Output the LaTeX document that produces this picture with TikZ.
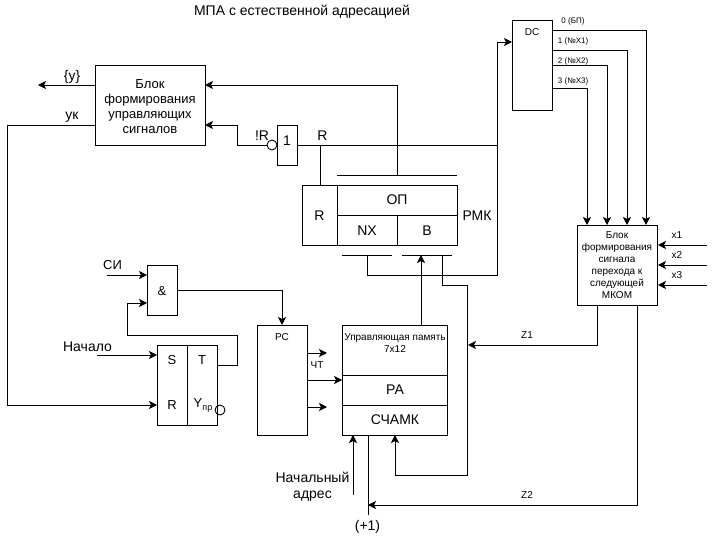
\documentclass[tikz,border=0pt]{standalone}
\usepackage{fontspec}
\setmainfont{Liberation Sans}
\usetikzlibrary{arrows.meta}
\usetikzlibrary{calc,positioning}

\begin{document}
\begin{tikzpicture}[x=1pt, y=-1pt, line width=0.9pt, >={Stealth[length=8pt,width=8pt,inset=2pt]},
        txt/.style={inner sep=0pt, align=center, font=\fontsize{14}{16}\selectfont},
        mid/.style={inner sep=0pt, align=center, font=\fontsize{13}{15}\selectfont},
        small/.style={inner sep=0pt, align=center, font=\fontsize{10}{12}\selectfont},
        tiny/.style={inner sep=0pt, anchor=west, font=\fontsize{8}{10}\selectfont},
        box/.style={draw=black, rectangle, anchor=north west, inner sep=0pt, outer sep=0pt, align=center},
        bubble/.style={draw=black, circle, minimum size=10pt, inner sep=0pt, outer sep=0pt}]
    \useasboundingbox (0,0) rectangle (716,537);

    \node [txt] (title) at (302,12) {МПА с естественной адресацией};

    % control signal block
    \node [box, minimum width=110pt, minimum height=80pt] (ctrl) at (95,65) {};
    \node [mid] (ctrltxt) at (150,107) {Блок\\формирования\\управляющих\\сигналов};
    \node [box, minimum width=20pt, minimum height=40pt] (gate) at (277,125) {};
    \node [mid, font=\fontsize{14}{16}\selectfont] (gatetxt) at (287,141) {1};
    \node [bubble] (notR) at (272,145) {};

    % register
    \node [box, minimum width=35pt, minimum height=60pt] (rmkR) at (302,185) {};
    \node [box, minimum width=120pt, minimum height=30pt] (rmkOP) at (337,185) {};
    \node [box, minimum width=60pt, minimum height=30pt] (rmkNX) at (337,215) {};
    \node [box, minimum width=60pt, minimum height=30pt] (rmkB) at (397,215) {};
    \node [txt] (txtR) at (319.5,216) {R};
    \node [txt] (txtOP) at (397,200) {ОП};
    \node [txt] (txtNX) at (367,231) {NX};
    \node [txt] (txtB) at (427,231) {B};
    \node [txt] (txtRMK) at (477,216) {РМК};
    \coordinate (topbarL) at (337,175);
    \coordinate (topbarR) at (457,175);
    \coordinate (nxbarL) at (342,255);
    \coordinate (nxbarR) at (392,255);
    \coordinate (bbarL) at (402,255);
    \coordinate (bbarR) at (452,255);
    \draw (topbarL) -- (topbarR);
    \draw (nxbarL) -- (nxbarR);
    \draw (bbarL) -- (bbarR);

    % decoder
    \node [box, minimum width=40pt, minimum height=90pt] (dc) at (512,20) {};
    \node [small] (dctxt) at (532,32) {DC};
    \node [tiny] (out0) at (561,21.5) {0 (БП)};
    \node [tiny] (out1) at (557.5,41.5) {1 (№X1)};
    \node [tiny] (out2) at (557.5,61.5) {2 (№X2)};
    \node [tiny] (out3) at (557.5,81.5) {3 (№X3)};

    % transition block
    \node [box, minimum width=80pt, minimum height=80pt] (trans) at (577,225) {};
    \node [small] (transtxt) at (617,265.5) {Блок\\формирования\\сигнала\\перехода к\\следующей\\МКОМ};

    % start logic
    \node [box, minimum width=30pt, minimum height=50pt] (andg) at (147,265) {};
    \node [mid] (andtxt) at (162,291) {\&};
    \node [box, minimum width=30pt, minimum height=80pt] (trigL) at (157,345) {};
    \node [box, minimum width=30pt, minimum height=80pt] (trigR) at (187,345) {};
    \node [mid] (txtS) at (172,360) {S};
    \node [mid] (txtT) at (202,360) {T};
    \node [mid] (txtRr) at (172,405) {R};
    \node [mid] (txtY) at (203,405.5) {Y\raisebox{-3pt}{\fontsize{9}{9}\selectfont пр}};
    \node [bubble] (Ybub) at (220,410) {};

    % clock and memory
    \node [box, minimum width=50pt, minimum height=110pt] (pc) at (257,325) {};
    \node [small] (pctxt) at (282,337) {РС};
    \node [box, minimum width=105pt, minimum height=50pt] (mem) at (342,325) {};
    \node [box, minimum width=105pt, minimum height=30pt] (memPA) at (342,375) {};
    \node [box, minimum width=105pt, minimum height=30pt] (memCNT) at (342,405) {};
    \node [small] (memtxt) at (395,343) {Управляющая память\\7х12};
    \node [txt] (txtPA) at (395,390) {РА};
    \node [txt] (txtCNT) at (395,420) {СЧАМК};

    % labels
    \node [txt] (txty) at (72,77) {\{y\}};
    \node [txt] (txtyk) at (72,117.5) {ук};
    \node [txt] (txtnotR) at (262,136) {!R};
    \node [txt] (txtRw) at (322.5,136) {R};
    \node [mid] (txtSI) at (112.5,265.5) {СИ};
    \node [txt] (txtstart) at (87.5,347) {Начало};
    \node [small] (txtCT) at (317,365) {ЧТ};
    \node [txt] (txtaddr) at (312.5,486.5) {Начальный\\адрес};
    \node [txt] (txtinc) at (367.5,527) {(+1)};
    \node [small] (txtZ1) at (527,335) {Z1};
    \node [small] (txtZ2) at (527,495) {Z2};
    \node [small] (txtx1) at (677,235.5) {x1};
    \node [small] (txtx2) at (677,255.5) {x2};
    \node [small] (txtx3) at (677,275.5) {x3};

    % free ends
    \coordinate (yend) at (38,85);
    \coordinate (siend) at (107,275);
    \coordinate (startend) at (97,355);
    \coordinate (addrend) at (353,495);
    \coordinate (incend) at (368,515);
    \coordinate (x1s) at (707,245);
    \coordinate (x1e) at (658,245);
    \coordinate (x2s) at (707,265);
    \coordinate (x2e) at (658,265);
    \coordinate (x3s) at (707,285);
    \coordinate (x3e) at (658,285);
    \coordinate (ctup) at (327,353);
    \coordinate (ctdown) at (327,407);

    % connectors
    \draw [->] (ctrl.west |- yend) -- (yend);
    \draw [->] (ctrl.west |- 0,125) -- (7,125) -- (7,405) -- (trigL.west |- 0,405);
    \draw [->] (topbarL -| rmkNX.east) -- (397,85) -- (ctrl.east |- 0,85);
    \draw [->] (notR.west) -- (237,145) -- (237,125) -- (ctrl.east |- 0,125);
    \draw (gate.east |- 0,145) -- (497,145);
    \draw (320,145) -- (320,185);
    \draw [->] (367,255) -- (367,275) -- (497,275) -- (497,42) -- (dc.west |- 0,42);
    \draw [->] (dc.east |- 0,30) -- (646,30) -- (646,225);
    \draw [->] (dc.east |- 0,50) -- (627,50) -- (627,225);
    \draw [->] (dc.east |- 0,65) -- (607,65) -- (607,225);
    \draw [->] (dc.east |- 0,88) -- (587,88) -- (587,225);
    \draw [->] (x1s) -- (x1e);
    \draw [->] (x2s) -- (x2e);
    \draw [->] (x3s) -- (x3e);
    \draw [->] (siend) -- (andg.west |- siend);
    \draw [->] (andg.east |- 0,290) -- (282,290) -- (pc.north -| 282,0);
    \draw [->] (trigR.east |- 0,365) -- (237,365) -- (237,335) -- (127,335) -- (127,303) -- (andg.west |- 0,303);
    \draw [->] (startend) -- (trigL.west |- startend);
    \draw [->] (pc.east |- ctup) -- (ctup);
    \draw [->] (pc.east |- 0,380) -- (mem.west |- 0,380);
    \draw [->] (pc.east |- ctdown) -- (ctdown);
    \draw [->] (421,325) -- (421,255);
    \draw [->] (442,255) -- (442,285) -- (467,285) -- (467,475) -- (395,475) -- (395,435);
    \draw [->] (trans.south -| 597,0) -- (597,345) -- (468,345);
    \draw [->] (trans.south -| 637,0) -- (637,505) -- (368,505);
    \draw (memCNT.south -| 368,0) -- (incend);
    \draw [->] (addrend) -- (353,435);
\end{tikzpicture}
\end{document}
